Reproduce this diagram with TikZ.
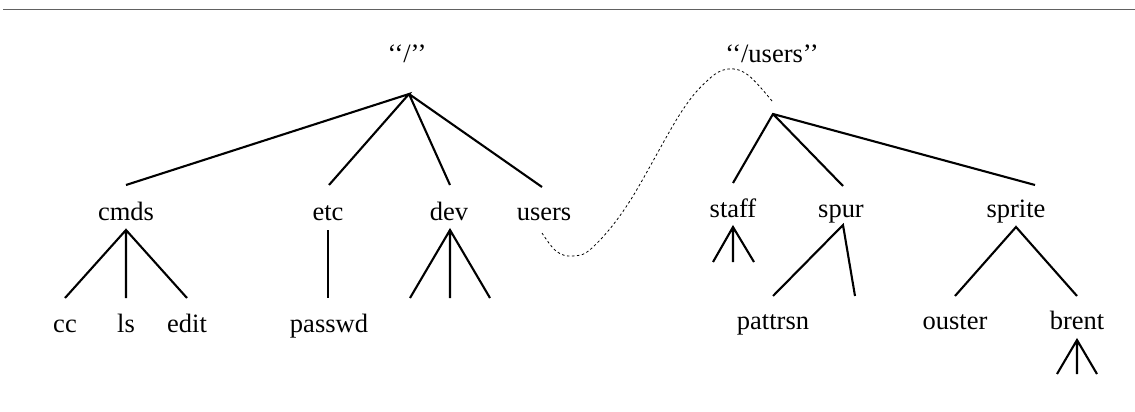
\documentclass[tikz,border=0pt]{standalone}
\usepackage{fontspec}
\setmainfont{Liberation Serif}
\begin{document}
\begin{tikzpicture}[x=1pt,y=-1pt,
  lbl/.style={anchor=base,inner sep=0pt,font=\fontsize{26.5}{30}\selectfont},
  edge/.style={line width=2.1pt},
  link/.style={line width=0.8pt,dash pattern=on 2.5pt off 2.5pt},
  rule/.style={line width=1.6pt,draw=black!62}]
\useasboundingbox (0,0) rectangle (1135,412);
\draw[rule] (3,9.5) -- (1135,9.5);

% ---- tree rooted at "/" ----
\node[lbl] (root) at (407,63) {‘‘/’’};
\coordinate (r) at (409,94);
\node[lbl] (cmds) at (126,220) {cmds};
\node[lbl] (etc) at (328,220) {etc};
\node[lbl] (dev) at (449,220) {dev};
\node[lbl] (users) at (544,220) {users};
\coordinate (cmdsT) at (126,185);
\coordinate (etcT) at (329,185);
\coordinate (devT) at (450,185);
\coordinate (usersT) at (542,187);
\draw[edge] (cmdsT) -- (r) -- (etcT) (r) -- (devT) (r) -- (usersT);

\coordinate (cmdsB) at (126,230);
\node[lbl] (cc) at (65,332) {cc};
\node[lbl] (ls) at (126,332) {ls};
\node[lbl] (edit) at (187,332) {edit};
\coordinate (ccT) at (65,298);
\coordinate (lsT) at (126,298);
\coordinate (editT) at (187,298);
\draw[edge] (ccT) -- (cmdsB) -- (editT) (cmdsB) -- (lsT);

\coordinate (etcB) at (328,230);
\node[lbl] (passwd) at (329,332) {passwd};
\coordinate (passwdT) at (328,298);
\draw[edge] (etcB) -- (passwdT);

\coordinate (devB) at (450,230);
\coordinate (dev1) at (410,298);
\coordinate (dev2) at (450,298);
\coordinate (dev3) at (490,298);
\draw[edge] (dev1) -- (devB) -- (dev3) (devB) -- (dev2);

% ---- tree rooted at "/users" ----
\node[lbl] (uroot) at (772,63) {‘‘/users’’};
\coordinate (u) at (773,114);
\node[lbl] (staff) at (733,217) {staff};
\node[lbl] (spur) at (841,217) {spur};
\node[lbl] (sprite) at (1016,217) {sprite};
\coordinate (staffT) at (733,183);
\coordinate (spurT) at (843,186);
\coordinate (spriteT) at (1035,185);
\draw[edge] (staffT) -- (u) -- (spriteT) (u) -- (spurT);

\coordinate (staffB) at (733,227);
\coordinate (staff1) at (713,262);
\coordinate (staff2) at (733,262);
\coordinate (staff3) at (754,262);
\draw[edge] (staff1) -- (staffB) -- (staff3) (staffB) -- (staff2);

\coordinate (spurB) at (843,225);
\node[lbl] (pattrsn) at (773,329) {pattrsn};
\coordinate (pattrsnT) at (773,296);
\coordinate (spur2) at (855,296);
\draw[edge] (pattrsnT) -- (spurB) -- (spur2);

\coordinate (spriteB) at (1016,227);
\node[lbl] (ouster) at (955,329) {ouster};
\node[lbl] (brent) at (1077,329) {brent};
\coordinate (ousterT) at (955,296);
\coordinate (brentT) at (1077,296);
\draw[edge] (ousterT) -- (spriteB) -- (brentT);

\coordinate (brentB) at (1077,340);
\coordinate (brent1) at (1057,374);
\coordinate (brent2) at (1077,374);
\coordinate (brent3) at (1097,374);
\draw[edge] (brent1) -- (brentB) -- (brent3) (brentB) -- (brent2);

% ---- mount link from "users" to the "/users" tree ----
\coordinate (mountA) at (542,233);
\coordinate (mountB) at (772,101);
\draw[link] plot[smooth,tension=0.6] coordinates
  {(mountA) (556,251) (572,256) (592,248) (628,204) (680,114) (708,80) (728,69) (748,75) (mountB)};
\end{tikzpicture}
\end{document}
